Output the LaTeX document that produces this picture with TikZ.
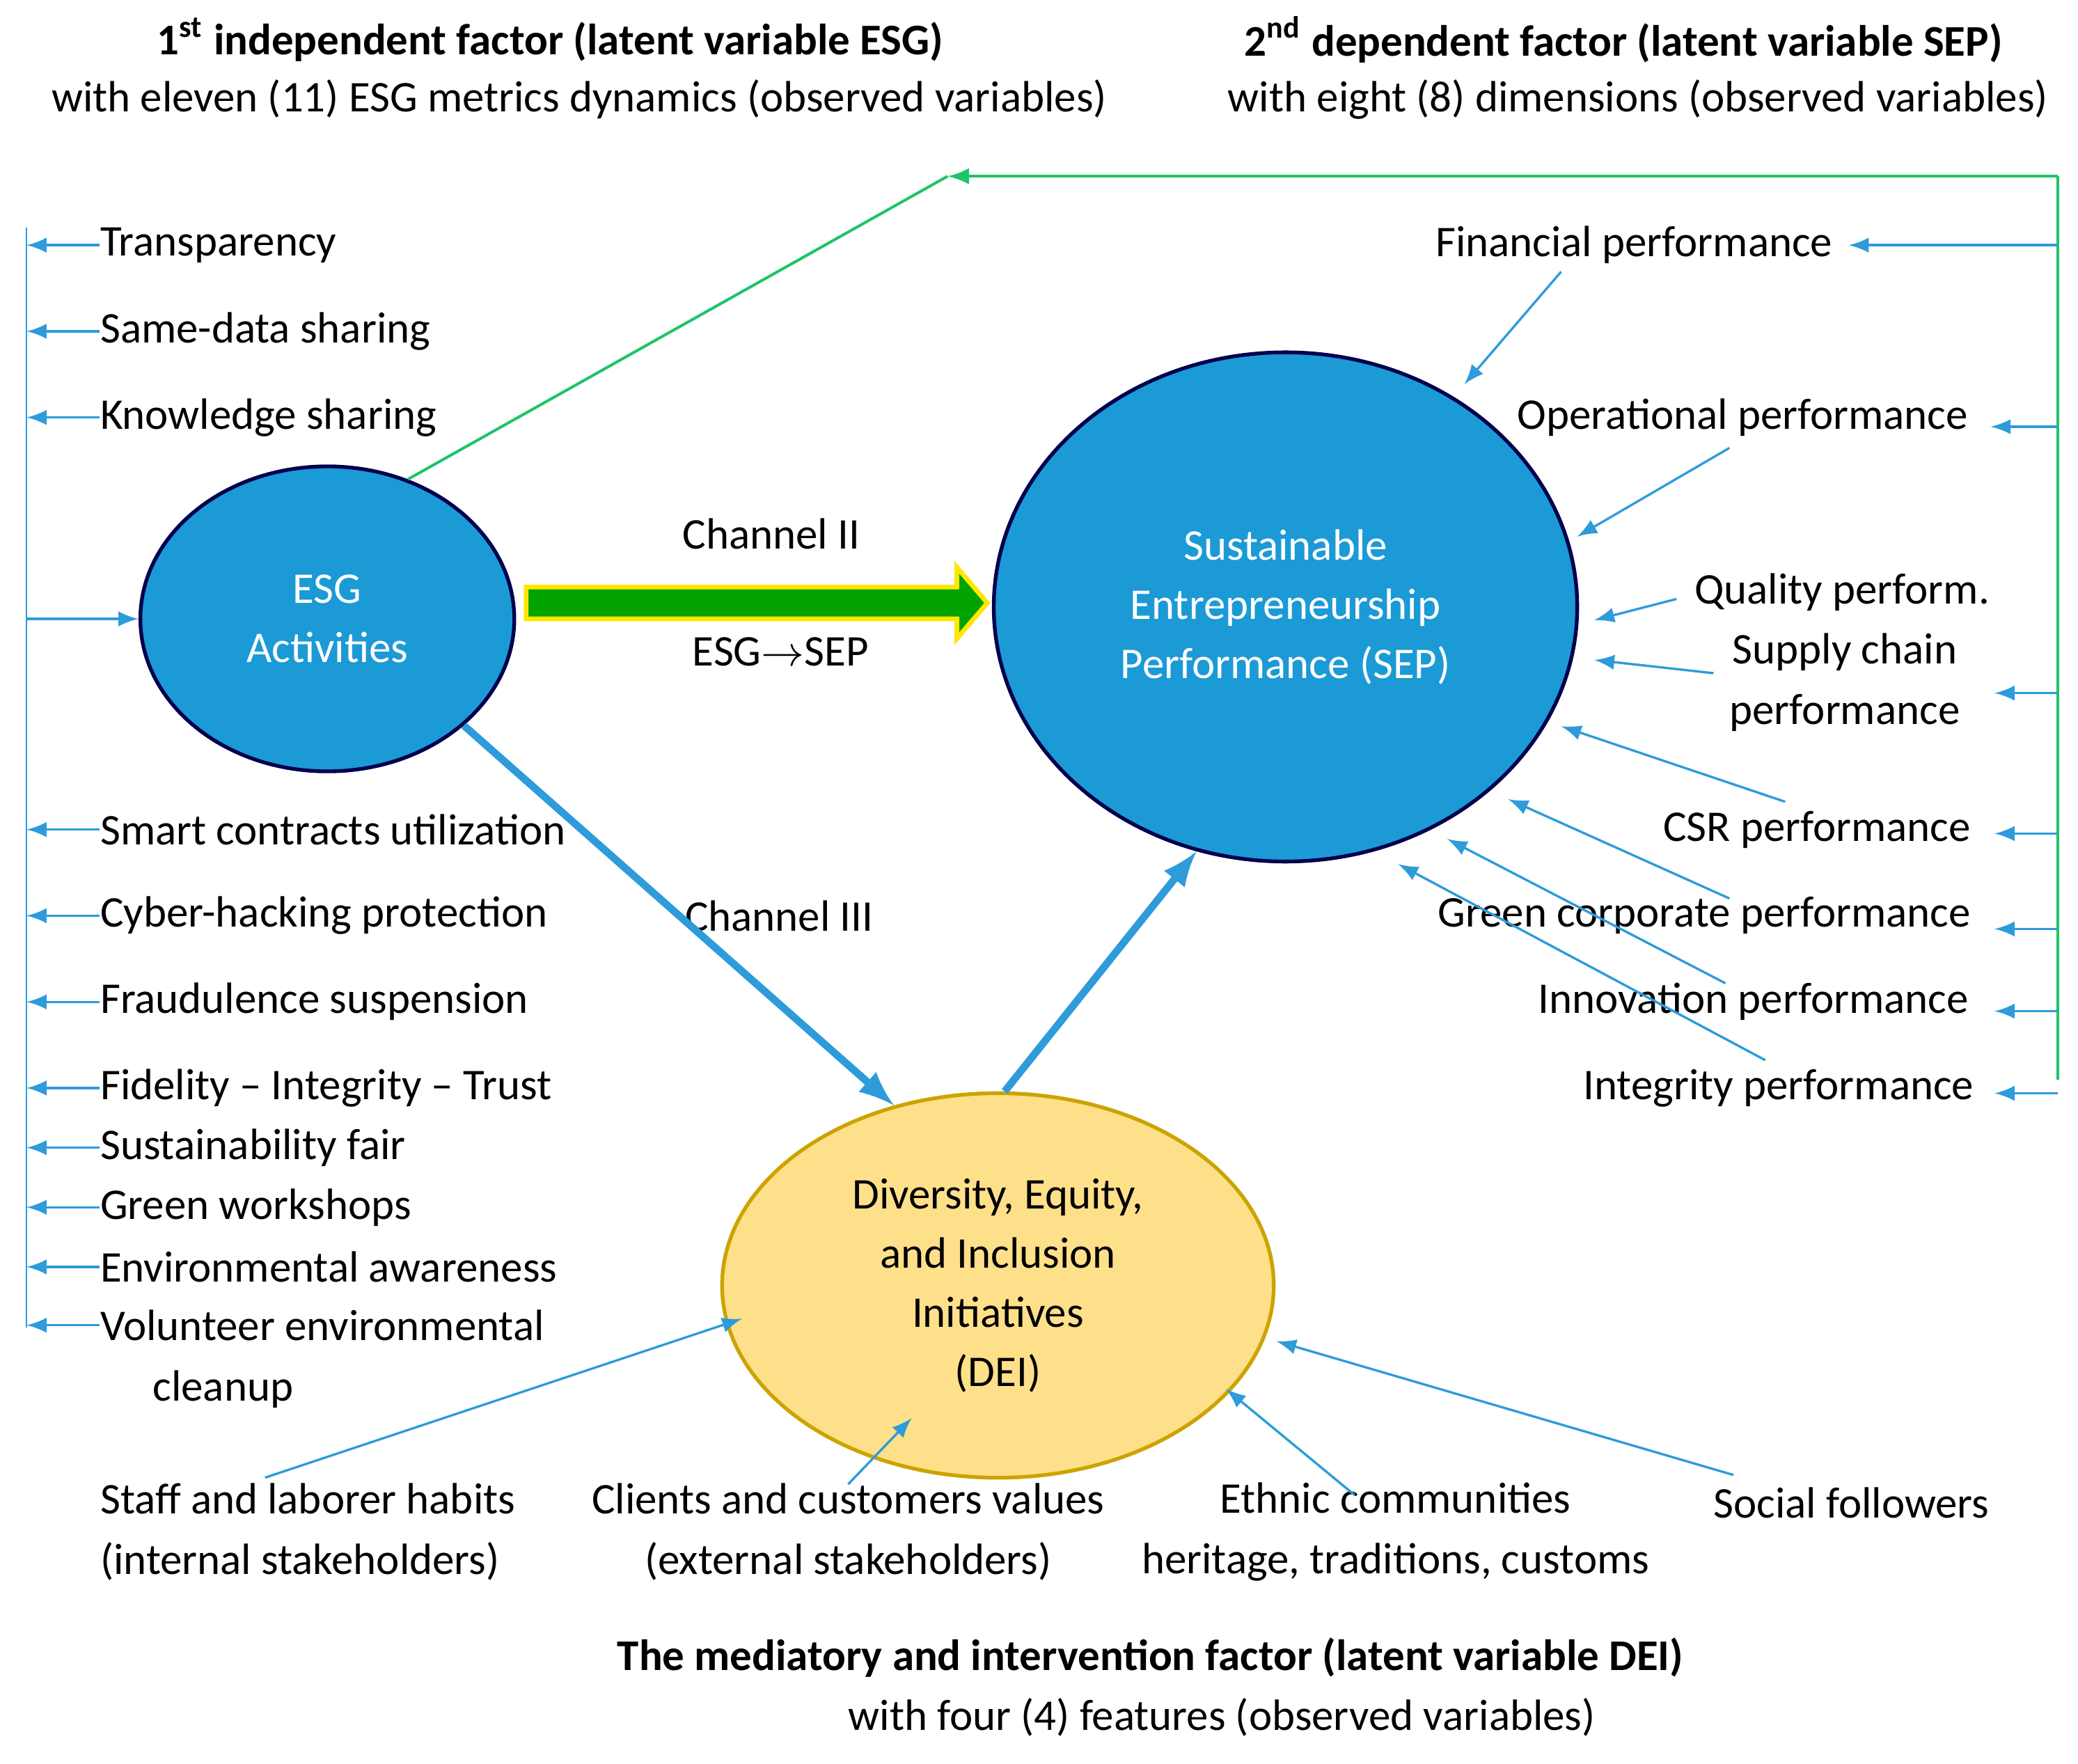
\documentclass[tikz,border=0pt]{standalone}
\usepackage{fontspec}
\setmainfont{Carlito}
\usetikzlibrary{arrows}
\definecolor{esgblue}{HTML}{1B9AD6}
\definecolor{deiyellow}{HTML}{FFE08A}
\definecolor{lineblue}{HTML}{2E9BDA}
\definecolor{linegreen}{HTML}{1DC46A}
\tikzset{
  txt/.style={font=\fontsize{9.4}{13}\selectfont, inner sep=0pt},
  head/.style={font=\fontsize{9.4}{13}\selectfont\bfseries, inner sep=0pt},
  feed/.style={draw=lineblue, -latex, line width=0.5pt},
  bubble/.style={ellipse, draw=black!70!blue, fill=esgblue, text=white, align=center, thick, inner sep=0pt, font=\fontsize{9.4}{12.7}\selectfont}
}
\usetikzlibrary{shapes.geometric}
\begin{document}
\begin{tikzpicture}[x=0.01cm,y=-0.01cm]
\useasboundingbox (0,0) rectangle (1568,1331);

% headers
\node[head] (h1) at (415,30) {1\textsuperscript{st} independent factor (latent variable ESG)};
\node[txt] (h1b) at (437,75) {with eleven (11) ESG metrics dynamics (observed variables)};
\node[head] (h2) at (1225,30) {2\textsuperscript{nd} dependent factor (latent variable SEP)};
\node[txt] (h2b) at (1236,75) {with eight (8) dimensions (observed variables)};
\node[head] (h3) at (868,1251) {The mediatory and intervention factor (latent variable DEI)};
\node[txt] (h3b) at (922,1296) {with four (4) features (observed variables)};

% latent variables
\node[bubble, minimum width=2.82cm, minimum height=2.3cm] (esg) at (247,467) {ESG\\Activities};
\node[bubble, minimum width=4.4cm, minimum height=3.84cm] (sep) at (970,458) {Sustainable\\Entrepreneurship\\Performance (SEP)};
\node[ellipse, draw=orange!40!yellow!80!black, fill=deiyellow, thick, align=center, inner sep=0pt, font=\fontsize{9.4}{12.7}\selectfont, minimum width=4.16cm, minimum height=2.9cm] (dei) at (753,970) {Diversity, Equity,\\and Inclusion\\Initiatives\\(DEI)};

% left observed variables
\draw[lineblue] (20,172) -- (20,1002);
\foreach \lab/\y [count=\k] in {Transparency/185, Same-data sharing/250, Knowledge sharing/315,
  Smart contracts utilization/626, Cyber-hacking protection/691, Fraudulence suspension/756,
  Fidelity -- Integrity -- Trust/821, Sustainability fair/866, Green workshops/911,
  Environmental awareness/956}
{
  \node[txt, anchor=west] (esgitem\k) at (75,\y) {\lab};
  \coordinate (esgtail\k) at (20,\y);
  \draw[feed] (esgitem\k.west) -- (esgtail\k);
}
\node[txt, anchor=north west, align=left] (esgitem11) at (75,988) {Volunteer environmental\\\hspace{1.2em}cleanup};
\coordinate (esgtail11) at (20,1000);
\draw[feed] (75,1000) -- (esgtail11);
\coordinate (esgin) at (20,467);
\draw[feed] (esgin) -- (esg.west);

% right observed variables
\coordinate (topcorner) at (1553,133);
\coordinate (toptip) at (715,133);
\draw[linegreen, line width=0.6pt] (1553,815) -- (topcorner);
\draw[linegreen, line width=0.6pt, -latex] (topcorner) -- (toptip);
\draw[linegreen, line width=0.6pt] (esg.60) -- (toptip);
\node[txt] (sep1) at (1233,185) {Financial performance};
\node[txt] (sep2) at (1315,315) {Operational performance};
\node[txt] (sep3) at (1390,447) {Quality perform.};
\node[txt, align=center] (sep4) at (1392,515) {Supply chain\\performance};
\node[txt] (sep5) at (1371,626) {CSR performance};
\node[txt] (sep6) at (1286,691) {Green corporate performance};
\node[txt] (sep7) at (1323,756) {Innovation performance};
\node[txt] (sep8) at (1342,821) {Integrity performance};
\foreach \k/\y/\tip in {1/185/1395, 2/322/1502, 4/523/1505, 5/629/1505, 6/701/1505, 7/763/1505, 8/825/1505}
{
  \coordinate (sepsrc\k) at (1553,\y);
  \coordinate (sepdst\k) at (\tip,\y);
  \draw[feed] (sepsrc\k) -- (sepdst\k);
}
\foreach \a/\b/\c/\d in {1178/205/1105/290, 1305/338/1190/405, 1265/452/1203/468, 1293/508/1203/498,
  1347/605/1178/548, 1305/678/1138/603, 1302/742/1092/633, 1332/800/1055/652}
  \draw[feed] (\a,\b) -- (\c,\d);

% channels
\draw[draw=yellow!90!orange, fill=green!60!black!90!green, line width=1pt]
  (397,443) -- (722,443) -- (722,428) -- (745,455) -- (722,482) -- (722,467) -- (397,467) -- cycle;
\node[txt] (ch2) at (582,403) {Channel II};
\node[txt] (ch2b) at (589,492) {ESG$\rightarrow$SEP};
\node[txt] (ch3) at (588,691) {Channel III};
\draw[lineblue, line width=1.6pt, -latex] (esg.-38) -- (dei.120);
\draw[lineblue, line width=1.6pt, -latex] (dei.88) -- (sep.-110);

% bottom observed variables
\node[txt, anchor=west, align=left] (dei1) at (75,1156) {Staff and laborer habits\\(internal stakeholders)};
\node[txt, align=center] (dei2) at (640,1156) {Clients and customers values\\(external stakeholders)};
\node[txt, align=center] (dei3) at (1053,1156) {Ethnic communities\\heritage, traditions, customs};
\node[txt] (dei4) at (1397,1134) {Social followers};
\draw[feed] (200,1115) -- (560,995);
\draw[feed] (640,1120) -- (688,1070);
\draw[feed] (1022,1128) -- (925,1048);
\draw[feed] (1308,1113) -- (963,1012);
\end{tikzpicture}
\end{document}
